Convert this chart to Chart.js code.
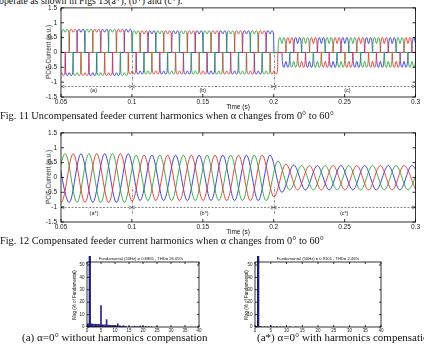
<!DOCTYPE html>
<html><head><meta charset="utf-8">
<script src="https://cdn.jsdelivr.net/npm/chart.js@4.4.0/dist/chart.umd.min.js"></script>
<style>
html,body{margin:0;padding:0;background:#fff;}
body{width:424px;height:346px;position:relative;overflow:hidden;}
canvas{position:absolute;}
.t{position:absolute;white-space:nowrap;font-family:"Liberation Serif","Times New Roman",serif;color:#111;font-size:10.3px;line-height:10.3px;}
.s{position:absolute;white-space:nowrap;font-family:"Liberation Sans",Arial,sans-serif;color:#111;line-height:1;}
.rot{transform:translate(-50%,-50%) rotate(-90deg);}
.ctr{transform:translate(-50%,-50%);}
.tiny{font-size:9px;}
</style></head><body>
<div class="t" style="left:-1px;top:-4px;font-size:9.8px;">operate as shown in Figs 13(a*), (b*) and (c*).</div>
<canvas id="c1" width="424" height="106" style="left:0;top:0"></canvas>
<div class="s rot" style="left:49px;top:52px;font-size:6.5px">PCC Current (p.u.)</div>
<div class="s ctr" style="left:238px;top:107px;font-size:6.5px">Time (s)</div>
<div class="t" style="left:0;top:111px;">Fig. 11 Uncompensated feeder current harmonics when α changes from 0° to 60°</div>

<canvas id="c2" width="424" height="106" style="left:0;top:125px"></canvas>
<div class="s rot" style="left:49px;top:177px;font-size:6.5px">PCC Current (p.u.)</div>
<div class="s ctr" style="left:238px;top:232px;font-size:6.5px">Time (s)</div>
<div class="t" style="left:0;top:236px;">Fig. 12 Compensated feeder current harmonics when α changes from 0° to 60°</div>

<canvas id="c3" width="150" height="82" style="left:60px;top:255px"></canvas>
<div class="s tiny" style="left:141px;top:259px;transform:translate(-50%,-50%) scale(0.46)">Fundamental (50Hz) = 0.8865 , THD= 26.05%</div>
<div class="s tiny" style="left:75px;top:295px;transform:translate(-50%,-50%) rotate(-90deg) scale(0.5)">Mag (% of Fundamental)</div>
<canvas id="c4" width="170" height="82" style="left:225px;top:255px"></canvas>
<div class="s tiny" style="left:318px;top:259px;transform:translate(-50%,-50%) scale(0.46)">Fundamental (50Hz) = 0.9101 , THD= 2.46%</div>
<div class="s tiny" style="left:247px;top:295px;transform:translate(-50%,-50%) rotate(-90deg) scale(0.5)">Mag (% of Fundamental)</div>

<div class="t" style="left:22px;top:332px;font-size:11px;line-height:11px;">(a) α=0° without harmonics compensation</div>
<div class="t" style="left:257px;top:332px;font-size:11px;line-height:11px;">(a*) α=0° with harmonics compensation</div>

<script>
// ---------- tick labels ----------
const timeTicks = [0.05, 0.1, 0.15, 0.2, 0.25, 0.3];
const currentTicks = [-1.5, -1, -0.5, 0, 0.5, 1, 1.5];
const harmTicks = [0, 5, 10, 15, 20, 25, 30, 35, 40];
const magTicks = [0, 10, 20, 30, 40, 50];
const segLabels1 = ['(a)', '(b)', '(c)'];
const segLabels2 = ['(a*)', '(b*)', '(c*)'];
const segMarks = [0.1, 0.2];

// ---------- Fig. 11: uncompensated current, conduction blocks [centre time, peak, ripple dip] ----------
const uncompGreen = [[0.0447,-0.78,-0.68],[0.0530,0.78,0.68],[0.0613,-0.78,-0.68],[0.0697,0.78,0.68],[0.0780,-0.78,-0.68],[0.0863,0.78,0.68],[0.0947,-0.78,-0.68],
  [0.1030,0.73,0.62],[0.1113,-0.73,-0.62],[0.1197,0.73,0.62],[0.1280,-0.73,-0.62],[0.1363,0.73,0.62],[0.1447,-0.73,-0.62],[0.1530,0.73,0.62],[0.1613,-0.73,-0.62],[0.1697,0.73,0.62],[0.1780,-0.73,-0.62],[0.1863,0.73,0.62],[0.1947,-0.73,-0.62],
  [0.2058,0.5,0.3],[0.2141,-0.5,-0.3],[0.2225,0.5,0.3],[0.2308,-0.5,-0.3],[0.2391,0.5,0.3],[0.2475,-0.5,-0.3],[0.2558,0.5,0.3],[0.2641,-0.5,-0.3],[0.2725,0.5,0.3],[0.2808,-0.5,-0.3],[0.2891,0.5,0.3],[0.2975,-0.5,-0.3],[0.3058,0.5,0.3]];
const uncompRed = [[0.0419,0.78,0.68],[0.0502,-0.78,-0.68],[0.0586,0.78,0.68],[0.0669,-0.78,-0.68],[0.0752,0.78,0.68],[0.0836,-0.78,-0.68],[0.0919,0.78,0.68],
  [0.1002,-0.73,-0.62],[0.1086,0.73,0.62],[0.1169,-0.73,-0.62],[0.1252,0.73,0.62],[0.1336,-0.73,-0.62],[0.1419,0.73,0.62],[0.1502,-0.73,-0.62],[0.1586,0.73,0.62],[0.1669,-0.73,-0.62],[0.1752,0.73,0.62],[0.1836,-0.73,-0.62],[0.1919,0.73,0.62],[0.2002,-0.73,-0.62],
  [0.2114,0.5,0.3],[0.2197,-0.5,-0.3],[0.2280,0.5,0.3],[0.2364,-0.5,-0.3],[0.2447,0.5,0.3],[0.2530,-0.5,-0.3],[0.2614,0.5,0.3],[0.2697,-0.5,-0.3],[0.2780,0.5,0.3],[0.2864,-0.5,-0.3],[0.2947,0.5,0.3],[0.3030,-0.5,-0.3]];
const uncompBlue = [[0.0474,0.78,0.68],[0.0558,-0.78,-0.68],[0.0641,0.78,0.68],[0.0724,-0.78,-0.68],[0.0808,0.78,0.68],[0.0891,-0.78,-0.68],[0.0974,0.78,0.68],
  [0.1058,-0.73,-0.62],[0.1141,0.73,0.62],[0.1224,-0.73,-0.62],[0.1308,0.73,0.62],[0.1391,-0.73,-0.62],[0.1474,0.73,0.62],[0.1558,-0.73,-0.62],[0.1641,0.73,0.62],[0.1724,-0.73,-0.62],[0.1808,0.73,0.62],[0.1891,-0.73,-0.62],[0.1974,0.73,0.62],
  [0.2086,-0.5,-0.3],[0.2169,0.5,0.3],[0.2252,-0.5,-0.3],[0.2336,0.5,0.3],[0.2419,-0.5,-0.3],[0.2502,0.5,0.3],[0.2586,-0.5,-0.3],[0.2669,0.5,0.3],[0.2752,-0.5,-0.3],[0.2836,0.5,0.3],[0.2919,-0.5,-0.3],[0.3002,0.5,0.3]];

// ---------- Fig. 12: compensated current, extremes [time, value] ----------
const compGreen = [[0.0447,-0.84],[0.0530,0.80],[0.0613,-0.84],[0.0697,0.80],[0.0780,-0.84],[0.0863,0.80],[0.0947,-0.84],[0.1030,0.75],[0.1113,-0.78],[0.1197,0.75],[0.1280,-0.78],[0.1363,0.75],[0.1447,-0.78],[0.1530,0.75],[0.1613,-0.78],[0.1697,0.75],[0.1780,-0.78],[0.1863,0.75],[0.1947,-0.78],[0.2030,0.55],[0.2113,-0.42],[0.2197,0.40],[0.2280,-0.42],[0.2363,0.40],[0.2447,-0.42],[0.2530,0.40],[0.2613,-0.42],[0.2697,0.40],[0.2780,-0.42],[0.2863,0.40],[0.2947,-0.42],[0.3030,0.40]];
const compRed = [[0.0419,0.80],[0.0502,-0.84],[0.0586,0.80],[0.0669,-0.84],[0.0752,0.80],[0.0836,-0.84],[0.0919,0.80],[0.1002,-0.80],[0.1086,0.75],[0.1169,-0.78],[0.1252,0.75],[0.1336,-0.78],[0.1419,0.75],[0.1502,-0.78],[0.1586,0.75],[0.1669,-0.78],[0.1752,0.75],[0.1836,-0.78],[0.1919,0.75],[0.2002,-0.65],[0.2086,0.45],[0.2169,-0.42],[0.2252,0.40],[0.2336,-0.42],[0.2419,0.40],[0.2502,-0.42],[0.2586,0.40],[0.2669,-0.42],[0.2752,0.40],[0.2836,-0.42],[0.2919,0.40],[0.3002,-0.42]];
const compBlue = [[0.0474,0.80],[0.0558,-0.84],[0.0641,0.80],[0.0724,-0.84],[0.0808,0.80],[0.0891,-0.84],[0.0974,0.80],[0.1058,-0.78],[0.1141,0.75],[0.1224,-0.78],[0.1308,0.75],[0.1391,-0.78],[0.1474,0.75],[0.1558,-0.78],[0.1641,0.75],[0.1724,-0.78],[0.1808,0.75],[0.1891,-0.78],[0.1974,0.75],[0.2058,-0.50],[0.2141,0.42],[0.2224,-0.42],[0.2308,0.40],[0.2391,-0.42],[0.2474,0.40],[0.2558,-0.42],[0.2641,0.40],[0.2724,-0.42],[0.2808,0.40],[0.2891,-0.42],[0.2974,0.40],[0.3058,-0.42]];

// ---------- FFT spectra (% of fundamental) ----------
const specA_order = [0,0.5,1,1.5,2,2.5,3,3.5,4,4.5,5,5.5,6,6.5,7,7.5,8,8.5,9,9.5,10,10.5,11,11.5,12,12.5,13,13.5,14,15,16,17,18,19,20,21,22,23,25];
const specA_mag   = [2.3,2.6,100,2.5,2.4,2.2,2.3,2.1,2.2,2.0,17.2,1.8,1.6,1.7,6.0,1.5,1.4,1.3,1.3,1.2,1.1,1.0,2.6,0.9,0.8,0.6,1.1,0.4,0.3,0.3,0.3,0.6,0.4,0.8,0.6,0.4,0.3,0.2,0.2];
const specB_order = [0,0.5,1,1.5,2,3,4,5,6,7,8,9,10,11,13];
const specB_mag   = [0.3,0.4,100,0.3,0.2,0.2,0.2,1.0,0.1,0.4,0.1,0.1,0.1,0.2,0.1];

// ---------- styles ----------
const RED = '#e2342e', GREEN = '#2ea23c', BLUE = '#2f32cf', BAR = '#26268e';
const BLOCK_W = 1 / 180;   // 120 degree conduction block width (s)

function blockTrace(blocks) {
  const pts = [];
  for (const [c, a, d] of blocks) {
    const s = c - BLOCK_W / 2, e = c + BLOCK_W / 2, w = BLOCK_W;
    pts.push({x: s, y: 0}, {x: s + 0.0003, y: d}, {x: s + w * 0.27, y: a},
             {x: s + w * 0.5, y: d}, {x: s + w * 0.73, y: a}, {x: e - 0.0003, y: d}, {x: e, y: 0});
  }
  return pts;
}
const extremeTrace = arr => arr.map(([x, y]) => ({x, y}));

const frame = {
  id: 'frame',
  beforeDatasetsDraw(chart, args, o) {
    const an = o.annot; if (!an) return;
    const {ctx} = chart, xs = chart.scales.x, ys = chart.scales.y;
    ctx.save();
    ctx.strokeStyle = '#555'; ctx.lineWidth = 0.7;
    ctx.setLineDash([2.5, 1.2, 0.6, 1.2]);
    for (const v of an.marks) {
      const px = Math.round(xs.getPixelForValue(v)) + 0.5;
      ctx.beginPath(); ctx.moveTo(px, ys.getPixelForValue(an.vBottom)); ctx.lineTo(px, ys.getPixelForValue(an.vTop)); ctx.stroke();
    }
    const hy = Math.round(ys.getPixelForValue(an.hY)) + 0.5;
    ctx.setLineDash([2, 1.5]);
    ctx.beginPath(); ctx.moveTo(xs.left, hy); ctx.lineTo(xs.right, hy); ctx.stroke();
    ctx.setLineDash([]);
    const arrow = (x, dir) => { ctx.beginPath(); ctx.moveTo(x, hy); ctx.lineTo(x - dir * 3, hy - 1.5); ctx.moveTo(x, hy); ctx.lineTo(x - dir * 3, hy + 1.5); ctx.stroke(); };
    arrow(xs.left + 0.5, -1); arrow(xs.right - 0.5, 1);
    for (const v of an.marks) { const px = xs.getPixelForValue(v); arrow(px, 1); arrow(px, -1); }
    ctx.fillStyle = '#222'; ctx.font = '5.5px "Liberation Sans", Arial'; ctx.textAlign = 'center'; ctx.textBaseline = 'middle';
    an.labels.forEach((t, i) => ctx.fillText(t, xs.getPixelForValue(an.labelX[i]), ys.getPixelForValue(an.labelY)));
    ctx.restore();
  },
  afterDatasetsDraw(chart, args, o) {
    const {ctx, chartArea: ca} = chart, xs = chart.scales.x, ys = chart.scales.y;
    const tl = o.tick || 3;
    ctx.save(); ctx.strokeStyle = '#000'; ctx.lineWidth = 0.8;
    ctx.strokeRect(ca.left, ca.top, ca.right - ca.left, ca.bottom - ca.top);
    ctx.beginPath();
    xs.ticks.forEach(t => { const p = xs.getPixelForValue(t.value); ctx.moveTo(p, ca.bottom); ctx.lineTo(p, ca.bottom - tl); ctx.moveTo(p, ca.top); ctx.lineTo(p, ca.top + tl); });
    ys.ticks.forEach(t => { const p = ys.getPixelForValue(t.value); ctx.moveTo(ca.left, p); ctx.lineTo(ca.left + tl, p); ctx.moveTo(ca.right, p); ctx.lineTo(ca.right - tl, p); });
    ctx.stroke(); ctx.restore();
  }
};

function axis(ticksArr, min, max, size, fs, pad, extra) {
  return Object.assign({
    type: 'linear', min, max, offset: false,
    afterBuildTicks: s => { s.ticks = ticksArr.map(v => ({value: v})); },
    grid: {display: false, drawTicks: false}, border: {display: false},
    ticks: {padding: pad, font: {size: fs, family: '"Liberation Sans", Arial'}, color: '#222', maxRotation: 0, autoSkip: false, callback: v => String(v)}
  }, extra);
}

function waveChart(id, top, bottomH, traces, annot) {
  new Chart(document.getElementById(id), {
    type: 'line',
    data: {datasets: traces.map(([pts, col]) => ({data: pts, borderColor: col, borderWidth: 0.9, pointRadius: 0, cubicInterpolationMode: 'monotone', fill: false}))},
    options: {
      responsive: false, animation: false, devicePixelRatio: 1, parsing: false,
      layout: {autoPadding: false, padding: {left: 0, top: top, right: 8.5, bottom: 0}},
      plugins: {legend: {display: false}, tooltip: {enabled: false}, frame: {annot, tick: 3}},
      scales: {
        x: axis(timeTicks, 0.05, 0.3, 0, 6.5, 1, {afterFit: s => { s.height = bottomH; }}),
        y: axis(currentTicks, -1.5, 1.5, 0, 6.5, 4, {afterFit: s => { s.width = 61; }})
      }
    },
    plugins: [frame]
  });
}

waveChart('c1', 7, 9, [[blockTrace(uncompRed), RED], [blockTrace(uncompGreen), GREEN], [blockTrace(uncompBlue), BLUE]],
  {marks: segMarks, vBottom: -1.28, vTop: 0, hY: -1.14, labels: segLabels1, labelX: [0.073, 0.15, 0.252], labelY: -1.27});
waveChart('c2', 7.5, 9, [[extremeTrace(compRed), RED], [extremeTrace(compGreen), GREEN], [extremeTrace(compBlue), BLUE]],
  {marks: segMarks, vBottom: -1.22, vTop: -0.3, hY: -1.0, labels: segLabels2, labelX: [0.0733, 0.151, 0.2497], labelY: -1.21});

function specChart(id, padRight, orders, mags) {
  const small = [], fund = [];
  orders.forEach((x, i) => (x === 1 ? fund : small).push({x, y: mags[i]}));
  new Chart(document.getElementById(id), {
    type: 'bar',
    data: {datasets: [
      {data: small, backgroundColor: BAR, barThickness: 1, grouped: false},
      {data: fund, backgroundColor: '#1c1c78', barThickness: 1.6, grouped: false, clip: {left: 0, right: 0, bottom: 0, top: 6}}
    ]},
    options: {
      responsive: false, animation: false, devicePixelRatio: 1, parsing: false,
      layout: {autoPadding: false, padding: {left: 0, top: 7, right: padRight, bottom: 0}},
      plugins: {legend: {display: false}, tooltip: {enabled: false}, frame: {tick: 2}},
      scales: {
        x: axis(harmTicks, 0, 40, 0, 4.5, 1.5, {afterFit: s => { s.height = 10; }}),
        y: axis(magTicks, 0, 52.4, 0, 4.5, 2.5, {afterFit: s => { s.width = s.chart.canvas.id === 'c3' ? 27 : 30; }})
      }
    },
    plugins: [frame]
  });
}
specChart('c3', 11, specA_order, specA_mag);
specChart('c4', 14, specB_order, specB_mag);
</script>
</body></html>
